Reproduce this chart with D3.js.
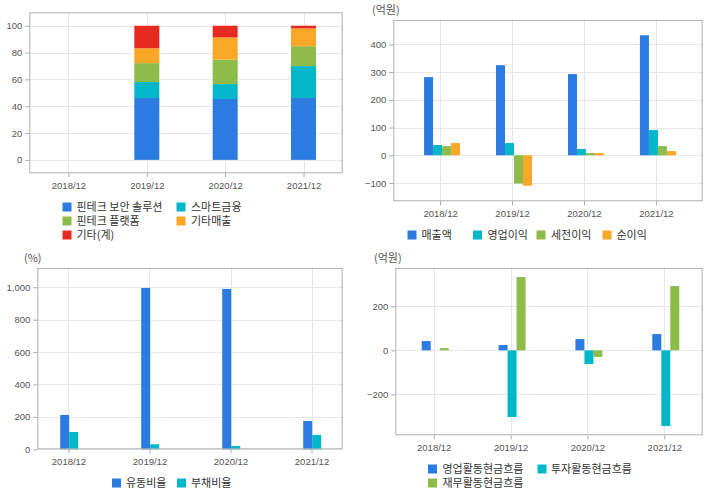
<!DOCTYPE html>
<html><head><meta charset="utf-8">
<script src="https://cdn.jsdelivr.net/npm/d3@7"></script>
<style>body{margin:0;background:#fff}svg{display:block}</style>
</head><body>
<svg id="c" width="720" height="496"></svg>
<script>
const categories = ["2018/12","2019/12","2020/12","2021/12"];

// Panel 1: revenue mix (%)
const mixSeries = ["핀테크 보안 솔루션","스마트금융","핀테크 플랫폼","기타매출","기타(계)"];
const mixSecurity   = [null, 46.1, 45.4, 46.1];
const mixSmart      = [null, 11.9, 11.1, 23.8];
const mixPlatform   = [null, 14.1, 18.3, 14.8];
const mixOtherSales = [null, 11.1, 16.5, 13.3];
const mixOther      = [null, 16.8, 8.7, 2.0];
const mixTicks = [0,20,40,60,80,100];

// Panel 2: P&L (억원)
const plSeries = ["매출액","영업이익","세전이익","순이익"];
const revenue   = [282, 325, 293, 433];
const opIncome  = [37, 44, 23, 91];
const preTax    = [33, -102, 8, 33];
const netIncome = [44, -110, 8, 15];
const plTicks = [-100,0,100,200,300,400];

// Panel 3: ratios (%)
const ratioSeries = ["유동비율","부채비율"];
const currentRatio = [212, 996, 990, 175];
const debtRatio    = [107, 31, 20, 88];
const ratioTicks = [0,200,400,600,800,1000];

// Panel 4: cash flow (억원)
const cfSeries = ["영업활동현금흐름","투자활동현금흐름","재무활동현금흐름"];
const cfOperating = [42, 24, 51, 74];
const cfInvesting = [0, -303, -62, -344];
const cfFinancing = [10, 333, -30, 292];
const cfTicks = [-200,0,200];

const BLUE="#2b7be0", CYAN="#02b7ca", GREEN="#8dbc4b", ORANGE="#f9a726", RED="#e72a20";
const KFONT = "'Noto Sans CJK KR','Noto Sans',sans-serif";
const NFONT = "'Liberation Sans',Arial,sans-serif";

const svg = d3.select("#c");

function frame(cfg){
  const g = svg.append("g");
  const x = d3.scalePoint().domain(categories).range([cfg.x0,cfg.x1]).padding(cfg.pad);
  const y = d3.scaleLinear().domain(cfg.ydom).range([cfg.y1,cfg.y0]);
  g.append("g").selectAll("line").data(cfg.ticks).join("line")
    .attr("x1",cfg.x0).attr("x2",cfg.x1)
    .attr("y1",d=>Math.round(y(d))+0.5).attr("y2",d=>Math.round(y(d))+0.5)
    .attr("stroke","#e8e8e8");
  g.append("g").selectAll("line").data(categories).join("line")
    .attr("x1",d=>Math.round(x(d))+0.5).attr("x2",d=>Math.round(x(d))+0.5)
    .attr("y1",cfg.y0).attr("y2",cfg.y1)
    .attr("stroke","#e8e8e8");
  const ya = g.append("g").attr("transform",`translate(${cfg.x0},0)`)
    .call(d3.axisLeft(y).tickValues(cfg.ticks).tickSize(4).tickPadding(3).tickFormat(d3.format(",")));
  const xa = g.append("g").attr("transform",`translate(0,${cfg.y1})`)
    .call(d3.axisBottom(x).tickSize(4).tickPadding(5));
  [ya,xa].forEach(a=>{
    a.select(".domain").remove();
    a.selectAll(".tick line").attr("stroke","#aaa");
    a.selectAll("text").attr("fill","#555").style("font-family",NFONT).style("font-size","9.5px");
  });
  return {g,x,y};
}

function border(cfg){
  svg.append("rect").attr("x",cfg.x0+0.5).attr("y",cfg.y0+0.5)
    .attr("width",cfg.x1-cfg.x0-1).attr("height",cfg.y1-cfg.y0-1)
    .attr("fill","none").attr("stroke","#b0b0b0");
}

function legend(items){
  const g = svg.append("g");
  items.forEach(it=>{
    g.append("rect").attr("x",it.x).attr("y",it.y-4.5).attr("width",9).attr("height",9).attr("fill",it.c);
    g.append("text").attr("x",it.tx).attr("y",it.y).attr("dy","0.36em")
      .attr("fill","#333").style("font-family",KFONT).style("font-size","11px").text(it.t);
  });
}

function unit(x,y,t){
  svg.append("text").attr("x",x).attr("y",y).attr("dy","0.36em").attr("fill","#555")
    .style("font-family",KFONT).style("font-size","11px").text(t);
}

function grouped(p, series, colors, bw, off){
  const n = series.length;
  series.forEach((vals,si)=>{
    p.g.append("g").selectAll("rect").data(vals.map((v,i)=>({v,c:categories[i]}))).join("rect")
      .attr("x",d=>p.x(d.c) - n*bw/2 + off + si*bw)
      .attr("width",bw)
      .attr("y",d=>p.y(Math.max(0,d.v)))
      .attr("height",d=>Math.abs(p.y(d.v)-p.y(0)))
      .attr("fill",colors[si]);
  });
}

// ---- Panel 1: stacked
{
  const cfg={x0:29.3,x1:342.7,y0:12.3,y1:173.3,ydom:[-10,110],ticks:mixTicks,pad:0.5};
  const p = frame(cfg);
  const rows = categories.map((c,i)=>({c,
    s0:mixSecurity[i]||0,s1:mixSmart[i]||0,s2:mixPlatform[i]||0,s3:mixOtherSales[i]||0,s4:mixOther[i]||0}));
  const stack = d3.stack().keys(["s0","s1","s2","s3","s4"])(rows);
  const cols=[BLUE,CYAN,GREEN,ORANGE,RED];
  stack.forEach((layer,li)=>{
    p.g.append("g").selectAll("rect").data(layer.filter(d=>d[1]-d[0]>0)).join("rect")
      .attr("x",d=>p.x(d.data.c)-12.5).attr("width",25)
      .attr("y",d=>p.y(d[1])).attr("height",d=>p.y(d[0])-p.y(d[1]))
      .attr("fill",cols[li]);
  });
  border(cfg);
  legend([
    {x:62.5,y:207,tx:76.5,c:BLUE,t:mixSeries[0]},
    {x:176.5,y:207,tx:191,c:CYAN,t:mixSeries[1]},
    {x:62.5,y:221,tx:76.5,c:GREEN,t:mixSeries[2]},
    {x:176.5,y:221,tx:191,c:ORANGE,t:mixSeries[3]},
    {x:62.5,y:235,tx:76.5,c:RED,t:mixSeries[4]}
  ]);
}

// ---- Panel 2: P&L grouped
{
  const cfg={x0:393.3,x1:702.7,y0:20,y1:201.3,ydom:[-166,488],ticks:plTicks,pad:0.65};
  const p = frame(cfg);
  grouped(p,[revenue,opIncome,preTax,netIncome],[BLUE,CYAN,GREEN,ORANGE],9,2);
  border(cfg);
  unit(372,10,"(억원)");
  legend([
    {x:407.5,y:235,tx:421.5,c:BLUE,t:plSeries[0]},
    {x:473,y:235,tx:487.5,c:CYAN,t:plSeries[1]},
    {x:536.5,y:235,tx:551,c:GREEN,t:plSeries[2]},
    {x:602.5,y:235,tx:616.5,c:ORANGE,t:plSeries[3]}
  ]);
}

// ---- Panel 3: ratios
{
  const cfg={x0:37.3,x1:342.7,y0:268,y1:449.3,ydom:[0,1119],ticks:ratioTicks,pad:0.385};
  const p = frame(cfg);
  grouped(p,[currentRatio,debtRatio],[BLUE,CYAN],9,0.7);
  border(cfg);
  unit(24,258,"(%)");
  legend([
    {x:112,y:483,tx:126,c:BLUE,t:ratioSeries[0]},
    {x:177,y:483,tx:191,c:CYAN,t:ratioSeries[1]}
  ]);
}

// ---- Panel 4: cash flow
{
  const cfg={x0:395.3,x1:702.7,y0:268,y1:435.3,ydom:[-386,374],ticks:cfTicks,pad:0.5};
  const p = frame(cfg);
  grouped(p,[cfOperating,cfInvesting,cfFinancing],[BLUE,CYAN,GREEN],9,1.5);
  border(cfg);
  unit(374,258,"(억원)");
  legend([
    {x:428,y:469,tx:442.5,c:BLUE,t:cfSeries[0]},
    {x:537.5,y:469,tx:551,c:CYAN,t:cfSeries[1]},
    {x:428,y:483,tx:442.5,c:GREEN,t:cfSeries[2]}
  ]);
}
</script>
</body></html>
